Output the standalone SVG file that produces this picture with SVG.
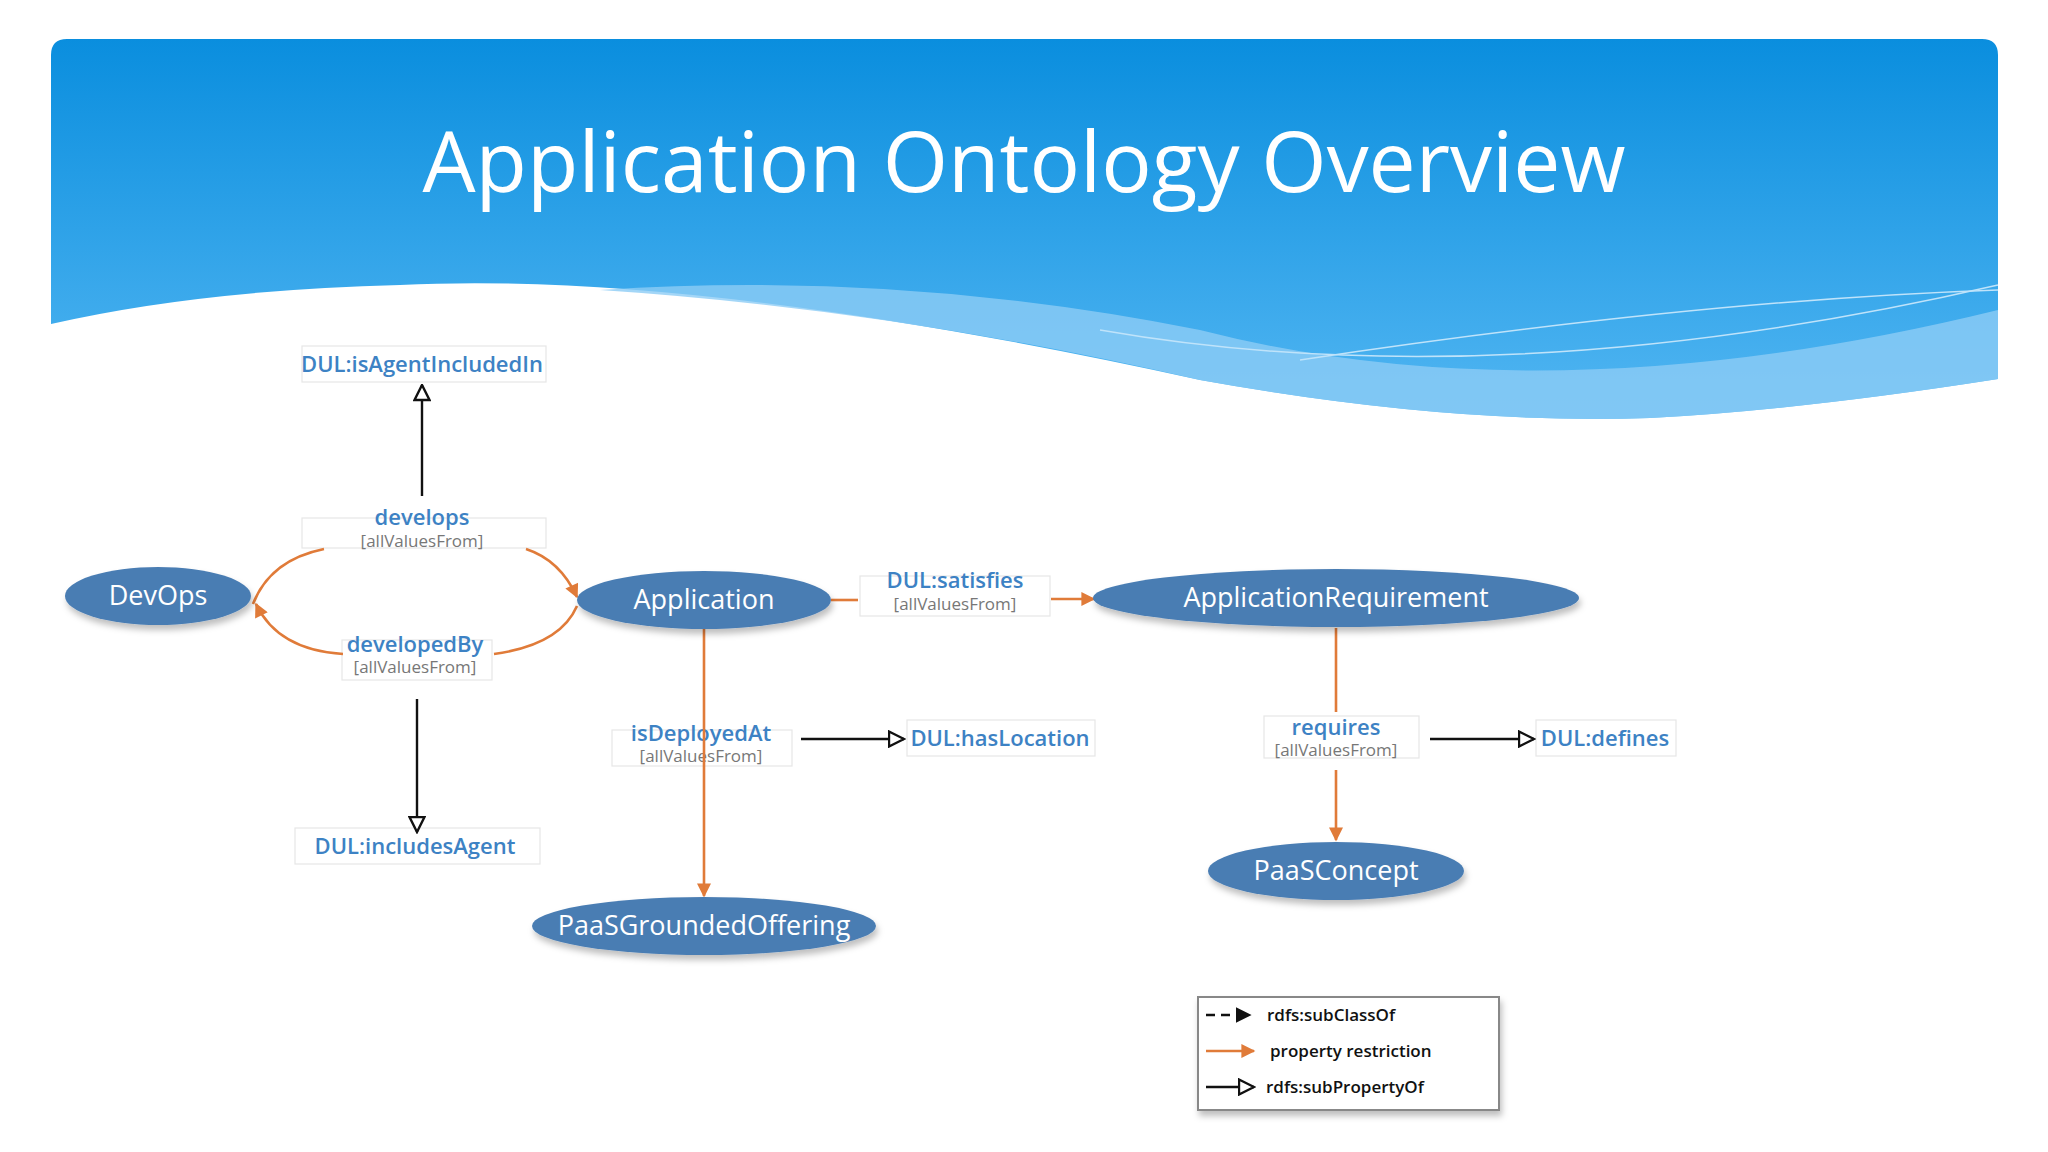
<svg xmlns="http://www.w3.org/2000/svg" width="2048" height="1152" viewBox="0 0 2048 1152">
<defs>
<linearGradient id="hd" x1="0" y1="0" x2="0" y2="1"><stop offset="0" stop-color="#0a8ede"/><stop offset="1" stop-color="#52b6f2"/></linearGradient>
<filter id="sh" x="-20%" y="-30%" width="140%" height="170%"><feDropShadow dx="2" dy="5" stdDeviation="3" flood-color="#000" flood-opacity="0.25"/></filter>
<marker id="or" viewBox="0 0 10 10" refX="9" refY="5" markerWidth="15" markerHeight="14" markerUnits="userSpaceOnUse" orient="auto"><path d="M0,0L10,5L0,10z" fill="#e07b39"/></marker>
<marker id="op" viewBox="0 0 12 12" refX="11" refY="6" markerWidth="18" markerHeight="18" markerUnits="userSpaceOnUse" orient="auto"><path d="M1,1L11,6L1,11z" fill="#fff" stroke="#111" stroke-width="1.6"/></marker>
<marker id="fb" viewBox="0 0 10 10" refX="9" refY="5" markerWidth="16" markerHeight="16" markerUnits="userSpaceOnUse" orient="auto"><path d="M0,0L10,5L0,10z" fill="#111"/></marker>
</defs>
<style>
.nd{fill:#4a7db3;filter:url(#sh)}
.nt{font-family:"Open Sans",sans-serif;font-size:27px;fill:#fff;text-anchor:middle}
.lb{font-family:"Open Sans",sans-serif;font-size:22px;fill:#3d82c4;text-anchor:middle;font-weight:600}
.av{font-family:"Open Sans",sans-serif;font-size:17px;fill:#777;text-anchor:middle}
.bx{fill:#fff;stroke:#e6e6e6;stroke-width:1.2}
.o{fill:none;stroke:#e07b39;stroke-width:2.6}
.k{fill:none;stroke:#111;stroke-width:2.4}
.lg{font-family:"Open Sans",sans-serif;font-size:17px;fill:#111;font-weight:600}
</style>
<rect width="2048" height="1152" fill="#fff"/>
<path d="M51,55 Q51,39 67,39 L1982,39 Q1998,39 1998,55 L1998,379 Q1800,410 1650,418 Q1450,425 1200,380 Q700,270 400,285 Q200,290 51,324 Z" fill="url(#hd)"/>
<path d="M600,290 Q900,270 1200,330 Q1550,420 1998,310 L1998,379 Q1800,410 1650,418 Q1450,425 1200,380 Q900,310 600,290 Z" fill="#8cccf5" opacity="0.8"/>
<path d="M1100,330 Q1500,400 1998,285" fill="none" stroke="#bfe3fa" stroke-width="1.5"/>
<path d="M1300,360 Q1700,300 1998,290" fill="none" stroke="#bfe3fa" stroke-width="1.5"/>
<text x="1024" y="192" font-family="'Open Sans',sans-serif" font-size="84" fill="#fff" text-anchor="middle">Application Ontology Overview</text>
<g id="labels">
<rect class="bx" x="302" y="346" width="244" height="36"/><text class="lb" x="422" y="372">DUL:isAgentIncludedIn</text>
<rect class="bx" x="302" y="518" width="244" height="30"/><text class="lb" x="422" y="525">develops</text><text class="av" x="422" y="547">[allValuesFrom]</text>
<rect class="bx" x="342" y="640" width="150" height="40"/><text class="lb" x="415" y="652">developedBy</text><text class="av" x="415" y="673">[allValuesFrom]</text>
<rect class="bx" x="295" y="828" width="245" height="36"/><text class="lb" x="415" y="854">DUL:includesAgent</text>
<rect class="bx" x="860" y="576" width="190" height="40"/><text class="lb" x="955" y="588">DUL:satisfies</text><text class="av" x="955" y="610">[allValuesFrom]</text>
<rect class="bx" x="612" y="730" width="180" height="36"/><text class="lb" x="701" y="741">isDeployedAt</text><text class="av" x="701" y="762">[allValuesFrom]</text>
<rect class="bx" x="907" y="720" width="188" height="36"/><text class="lb" x="1000" y="746">DUL:hasLocation</text>
<rect class="bx" x="1264" y="716" width="155" height="42"/><text class="lb" x="1336" y="735">requires</text><text class="av" x="1336" y="756">[allValuesFrom]</text>
<rect class="bx" x="1536" y="720" width="140" height="36"/><text class="lb" x="1605" y="746">DUL:defines</text>
</g>
<g id="connectors">
<path class="k" d="M422,496 L422,385" marker-end="url(#op)"/>
<path class="k" d="M417,699 L417,832" marker-end="url(#op)"/>
<path class="k" d="M801,739 L904,739" marker-end="url(#op)"/>
<path class="k" d="M1430,739 L1534,739" marker-end="url(#op)"/>
<path class="o" d="M253,604 Q270,560 324,549"/>
<path class="o" d="M526,549 Q560,560 577,597" marker-end="url(#or)"/>
<path class="o" d="M577,606 Q560,645 494,654"/>
<path class="o" d="M343,654 Q278,650 256,604" marker-end="url(#or)"/>
<path class="o" d="M831,600 L858,600"/>
<path class="o" d="M1051,599 L1094,599" marker-end="url(#or)"/>
<path class="o" d="M704,628 L704,896" marker-end="url(#or)"/>
<path class="o" d="M1336,628 L1336,712"/>
<path class="o" d="M1336,770 L1336,840" marker-end="url(#or)"/>
</g>
<g id="DevOps"><ellipse class="nd" cx="158" cy="596" rx="93" ry="29"/><text class="nt" x="158" y="605">DevOps</text></g>
<g id="Application"><ellipse class="nd" cx="704" cy="600" rx="127" ry="29"/><text class="nt" x="704" y="609">Application</text></g>
<g id="ApplicationRequirement"><ellipse class="nd" cx="1336" cy="598" rx="243" ry="29"/><text class="nt" x="1336" y="607">ApplicationRequirement</text></g>
<g id="PaaSGroundedOffering"><ellipse class="nd" cx="704" cy="926" rx="172" ry="29"/><text class="nt" x="704" y="935">PaaSGroundedOffering</text></g>
<g id="PaaSConcept"><ellipse class="nd" cx="1336" cy="871" rx="128" ry="29"/><text class="nt" x="1336" y="880">PaaSConcept</text></g>
<g id="legend">
<rect x="1198" y="997" width="301" height="113" fill="#fff" stroke="#888" stroke-width="2" filter="url(#sh)"/>
<path class="k" d="M1206,1015 L1250,1015" stroke-dasharray="9,6" marker-end="url(#fb)"/>
<text class="lg" x="1267" y="1021">rdfs:subClassOf</text>
<path class="o" d="M1206,1051 L1254,1051" stroke-width="3" marker-end="url(#or)"/>
<text class="lg" x="1270" y="1057">property restriction</text>
<path class="k" d="M1206,1087 L1254,1087" marker-end="url(#op)"/>
<text class="lg" x="1266" y="1093">rdfs:subPropertyOf</text>
</g>
</svg>
